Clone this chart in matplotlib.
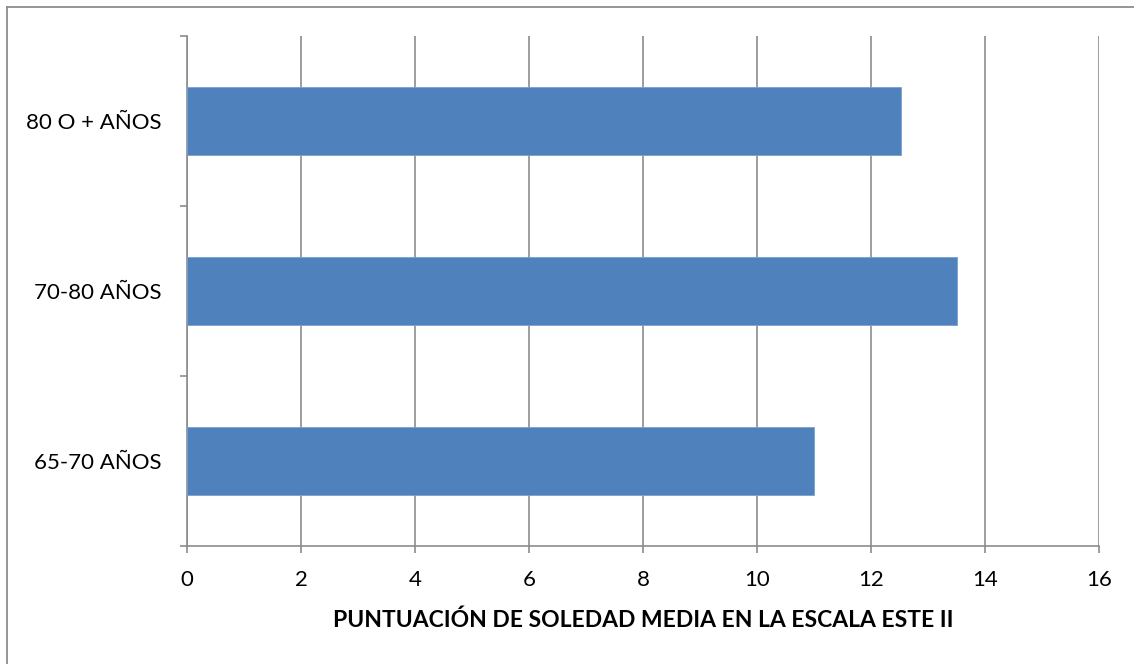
import matplotlib
matplotlib.use("Agg")
import matplotlib.pyplot as plt
from matplotlib.lines import Line2D

categories = ["65-70 AÑOS", "70-80 AÑOS", "80 O + AÑOS"]
values = [11.0, 13.5, 12.53]
xticks = [0, 2, 4, 6, 8, 10, 12, 14, 16]
xlabel = "PUNTUACIÓN DE SOLEDAD MEDIA EN LA ESCALA ESTE II"

plt.rcParams['font.family'] = ['Lato', 'DejaVu Sans']

W, H = 1134, 664
fig = plt.figure(figsize=(W / 100, H / 100), dpi=100)
ax = fig.add_axes([187 / W, 1 - 546 / H, (1099 - 187) / W, (546 - 36) / H])

grid_c = "#8c8c8c"
bar_c = "#4f81bd"

ypos = list(range(len(categories)))
ax.barh(ypos, values, height=0.4, color=bar_c, edgecolor="#7a9fcf", linewidth=0.6, zorder=3)

ax.set_xlim(0, 16)
ax.set_ylim(-0.5, len(categories) - 0.5)
ax.set_xticks(xticks)
ax.set_xticklabels([str(t) for t in xticks])
ax.xaxis.grid(True, color=grid_c, linewidth=1.2, zorder=0)
ax.set_axisbelow(True)

ax.set_yticks([i - 0.5 for i in range(len(categories) + 1)], minor=False)
ax.set_yticklabels([""] * (len(categories) + 1))
ax.set_yticks(ypos, minor=True)
ax.set_yticklabels(categories, minor=True)
ax.tick_params(axis="y", which="minor", length=0, pad=18, labelsize=16)
ax.tick_params(axis="y", which="major", length=5, width=1.2, color=grid_c, direction="out")
ax.tick_params(axis="x", length=5, width=1.2, color=grid_c, direction="out", pad=12, labelsize=16)

for s in ["top", "right"]:
    ax.spines[s].set_visible(False)
for s in ["left", "bottom"]:
    ax.spines[s].set_color(grid_c)
    ax.spines[s].set_linewidth(1.2)

ax.set_xlabel(xlabel, fontsize=16.5, fontweight="bold", labelpad=14)

# outer frame (only top and left edges visible)
fig.add_artist(Line2D([7 / W, 7 / W], [0, 1 - 7 / H], transform=fig.transFigure, color="#8c8c8c", linewidth=1.3))
fig.add_artist(Line2D([7 / W, 1], [1 - 7 / H, 1 - 7 / H], transform=fig.transFigure, color="#8c8c8c", linewidth=1.3))

fig.savefig("out.png", dpi=100, facecolor="white")
